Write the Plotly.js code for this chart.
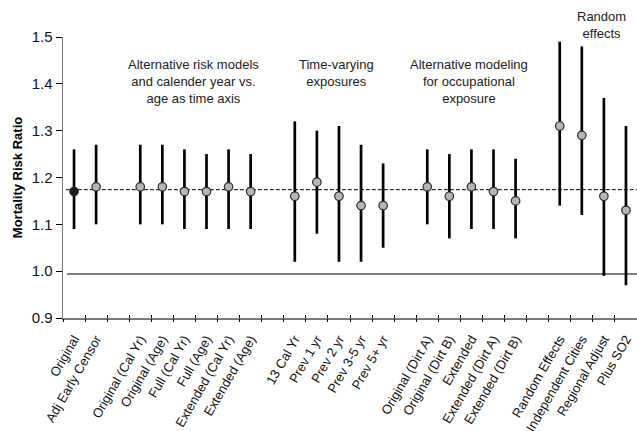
<!DOCTYPE html>
<html>
<head>
<meta charset="utf-8">
<script src="https://cdn.plot.ly/plotly-3.0.1.min.js"></script>
<style>html,body{margin:0;padding:0;background:#fff;}#chart{width:637px;height:431px;}</style>
</head>
<body>
<div id="chart"></div>
<script>
// Categories ('' = spacer slot between groups)
const categories = ['Original','Adj Early Censor','',
  'Original (Cal Yr)','Original (Age)','Full (Cal Yr)','Full (Age)','Extended (Cal Yr)','Extended (Age)','',
  '13 Cal Yr','Prev 1 yr','Prev 2 yr','Prev 3-5 yr','Prev 5+ yr','',
  'Original (Dirt A)','Original (Dirt B)','Extended','Extended (Dirt A)','Extended (Dirt B)','',
  'Random Effects','Independent Cities','Regional Adjust','Plus SO2'];
const riskRatio = [1.17,1.18,null,1.18,1.18,1.17,1.17,1.18,1.17,null,1.16,1.19,1.16,1.14,1.14,null,1.18,1.16,1.18,1.17,1.15,null,1.31,1.29,1.16,1.13];
const lowerCI  = [1.09,1.10,null,1.10,1.10,1.09,1.09,1.09,1.09,null,1.02,1.08,1.02,1.02,1.05,null,1.10,1.07,1.09,1.09,1.07,null,1.14,1.12,0.99,0.97];
const upperCI  = [1.26,1.27,null,1.27,1.27,1.26,1.25,1.26,1.25,null,1.32,1.30,1.31,1.27,1.23,null,1.26,1.25,1.26,1.26,1.24,null,1.49,1.48,1.37,1.31];
const nullLine = 0.994;     // solid reference line
const originalRR = 1.174;   // dashed reference line
const groupTitles = ['Alternative risk models<br>and calender year vs.<br>age as time axis','Time-varying<br>exposures','Alternative modeling<br>for occupational<br>exposure','Random<br>effects'];
const groupTitleX = [5.43, 11.9, 17.9, 23.87];
const groupTitleY = [1.406, 1.423, 1.406, 1.526];
const yTicks = [0.9,1.0,1.1,1.2,1.3,1.4,1.5];
const yRange = [0.9, 1.5];

const idx = categories.map((c,i)=>i);
const labelPos = idx.filter(i=>categories[i] !== '');
const boundaries = [];
for (let i=0;i<=categories.length;i++) boundaries.push(i-0.5);

const font = 'Liberation Sans, Arial, sans-serif';

const trace = {
  type:'scatter', mode:'markers', x: idx, y: riskRatio,
  error_y: {type:'data', symmetric:false,
    array: riskRatio.map((v,i)=> v==null?null: upperCI[i]-v),
    arrayminus: riskRatio.map((v,i)=> v==null?null: v-lowerCI[i]),
    color:'#000', thickness:2.7, width:0},
  marker: {size:8.5, color: idx.map(i=> i===0 ? '#1a1a1a' : '#b5b5b5'), line:{color:'#2a2a2a', width:1.2}},
  cliponaxis:false, showlegend:false, hoverinfo:'skip'
};
const dummy2 = {type:'scatter', x:[0], y:[1], xaxis:'x2', yaxis:'y', mode:'none', showlegend:false, hoverinfo:'skip'};
const dummy3 = {type:'scatter', x:[0], y:[1], xaxis:'x3', yaxis:'y', mode:'none', showlegend:false, hoverinfo:'skip'};

const xr = [-0.5, categories.length-0.5];
const layout = {
  width:637, height:431,
  margin:{l:63, r:0, t:37, b:113},
  paper_bgcolor:'#fff', plot_bgcolor:'#fff',
  font:{family:font, color:'#000'},
  xaxis:{range:xr, tickmode:'array', tickvals: labelPos, ticktext: labelPos.map(i=>categories[i]),
    tickangle:-60, ticks:'outside', ticklen:7, tickcolor:'rgba(0,0,0,0)',
    tickfont:{size:13, family:font, color:'#111'},
    showline:true, linecolor:'#7a7a7a', linewidth:1.5, showgrid:false, zeroline:false, fixedrange:true},
  xaxis2:{range:xr, overlaying:'x', anchor:'y', side:'bottom', tickmode:'array', tickvals: boundaries,
    ticks:'outside', ticklen:3, tickwidth:1, tickcolor:'#000', showticklabels:false, showline:false, showgrid:false, zeroline:false},
  xaxis3:{range:xr, overlaying:'x', anchor:'y', side:'bottom', tickmode:'array', tickvals: boundaries,
    ticks:'inside', ticklen:3, tickwidth:1, tickcolor:'#000', showticklabels:false, showline:false, showgrid:false, zeroline:false},
  yaxis:{range:yRange, tickmode:'array', tickvals:yTicks, ticktext: yTicks.map(v=>v.toFixed(1)),
    ticks:'outside', ticklen:6, tickwidth:1, tickcolor:'#000',
    tickfont:{size:15, family:font, color:'#111'},
    showline:true, linecolor:'#7a7a7a', linewidth:1.5, showgrid:false, zeroline:false, fixedrange:true,
    title:{text:'<b>Mortality Risk Ratio</b>', font:{size:13, family:font, color:'#000'}, standoff:6}},
  shapes:[
    {type:'line', xref:'paper', yref:'y', x0:0.007, x1:1, y0:nullLine, y1:nullLine, line:{color:'#808080', width:1.8}, layer:'below'},
    {type:'line', xref:'paper', yref:'y', x0:0.005, x1:1, y0:originalRR, y1:originalRR, line:{color:'#000', width:1, dash:'4px,2px'}, layer:'below'}
  ],
  annotations: groupTitles.map((t,i)=>({text:t, x:groupTitleX[i],
    y:(groupTitleY[i]-yRange[0])/(yRange[1]-yRange[0]), xref:'x', yref:'paper', showarrow:false,
    font:{size:13, family:font, color:'#222'}, align:'center', xanchor:'center', yanchor:'middle'}))
};
Plotly.newPlot('chart', [trace, dummy2, dummy3], layout, {staticPlot:true, displayModeBar:false});
</script>
</body>
</html>
